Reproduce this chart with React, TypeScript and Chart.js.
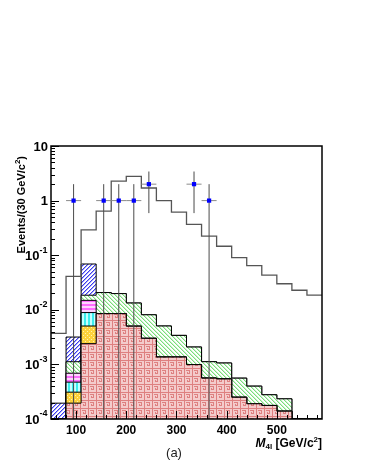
import React, { useEffect, useRef } from "react";
import { Chart, registerables } from "chart.js";

Chart.register(...registerables);

// ---------------- data ----------------
const BIN_LOW = [50, 80, 110, 140, 170, 200, 230, 260, 290, 320, 350, 380, 410, 440, 470, 500, 530, 560];
const BIN_END = 590;

// outer (unfilled) histogram
const SIGNAL_TOTAL = [0.0037, 0.041, 0.29, 0.64, 2.28, 2.78, 1.7, 1.0, 0.615, 0.366, 0.223, 0.146, 0.0906, 0.0645, 0.043, 0.03, 0.0228, 0.0185];

// stacked components, bottom to top
const BKG_PINK = [0, 1.95e-4, 2.4e-3, 8.5e-3, 8.5e-3, 5.0e-3, 3.0e-3, 1.36e-3, 1.36e-3, 9.9e-4, 5.6e-4, 5.4e-4, 2.5e-4, 1.9e-4, 1.77e-4, 1.39e-4, 0, 0];
const BKG_YELLOW = [0, 1.15e-4, 2.65e-3, 0, 0, 0, 0, 0, 0, 0, 0, 0, 0, 0, 0, 0, 0, 0];
const BKG_CYAN = [0, 1.63e-4, 3.85e-3, 0, 0, 0, 0, 0, 0, 0, 0, 0, 0, 0, 0, 0, 0, 0];
const BKG_MAGENTA = [0, 2.17e-4, 6.0e-3, 0, 0, 0, 0, 0, 0, 0, 0, 0, 0, 0, 0, 0, 0, 0];
const BKG_GREEN = [0, 4.3e-4, 3.6e-3, 1.22e-2, 1.13e-2, 8.3e-3, 5.1e-3, 3.69e-3, 2.04e-3, 1.09e-3, 5.6e-4, 5.2e-4, 3.1e-4, 2.1e-4, 1.01e-4, 9.5e-5, 0, 0];
const BKG_BLUE = [1.95e-4, 2.05e-3, 5.05e-2, 0, 0, 0, 0, 0, 0, 0, 0, 0, 0, 0, 0, 0, 0, 0];

// observed events
const DATA_X = [95, 155, 185, 215, 245, 335, 365];
const DATA_N = [1, 1, 1, 1, 2, 2, 1];
const DATA_ERR_LO = [1, 1, 1, 1, 1.41, 1.41, 1];
const DATA_ERR_HI = [1, 1, 1, 1, 1.41, 1.41, 1];
const DATA_HALF_WIDTH = 15;

const X_TICKS = [100, 200, 300, 400, 500];
const Y_TICKS = [10, 1, 0.1, 0.01, 0.001, 0.0001];
const Y_TICK_BASE = ["10", "1", "10", "10", "10", "10"];
const Y_TICK_EXP = ["", "", "-1", "-2", "-3", "-4"];

const X_MIN = 50;
const X_MAX = 590;
const Y_MIN = 1e-4;
const Y_MAX = 10;

const FONT = "'Liberation Sans', Arial, Helvetica, sans-serif";

// ---------------- helpers ----------------
function makePattern(ctx: CanvasRenderingContext2D, w: number, h: number, draw: (g: CanvasRenderingContext2D) => void) {
  const c = document.createElement("canvas");
  c.width = w;
  c.height = h;
  const g = c.getContext("2d")!;
  draw(g);
  return ctx.createPattern(c, "repeat")!;
}

function stepPoints(vals: number[]) {
  const pts = BIN_LOW.map((x, i) => ({ x, y: vals[i] > 0 ? vals[i] : Y_MIN }));
  const last = vals[vals.length - 1];
  pts.push({ x: BIN_END, y: last > 0 ? last : Y_MIN });
  return pts;
}

export default function App() {
  const ref = useRef<HTMLCanvasElement>(null);

  useEffect(() => {
    document.body.style.margin = "0";
    const canvas = ref.current!;
    const ctx = canvas.getContext("2d")!;

    const patPink = makePattern(ctx, 8, 8, (g) => {
      g.fillStyle = "#f4cbcb";
      g.fillRect(0, 0, 8, 8);
      g.fillStyle = "#de8080";
      g.fillRect(0, 0, 8, 1);
      g.fillRect(0, 0, 1, 8);
      g.fillRect(2, 2, 4, 1);
      g.fillRect(5, 2, 1, 4);
      g.fillRect(3, 5, 3, 1);
      g.fillRect(3, 4, 1, 2);
    });
    const patYellow = makePattern(ctx, 4, 4, (g) => {
      g.fillStyle = "#fdd23c";
      g.fillRect(0, 0, 4, 4);
      g.fillStyle = "#fff4b0";
      g.fillRect(1, 1, 1, 1);
      g.fillRect(3, 3, 1, 1);
    });
    const patCyan = makePattern(ctx, 4, 4, (g) => {
      g.fillStyle = "#c4ffff";
      g.fillRect(0, 0, 4, 4);
      g.fillStyle = "#3ceeee";
      g.fillRect(0, 0, 2, 4);
    });
    const patMagenta = makePattern(ctx, 4, 4, (g) => {
      g.fillStyle = "#ffd4ff";
      g.fillRect(0, 0, 4, 4);
      g.fillStyle = "#ff6cff";
      g.fillRect(0, 0, 4, 2);
    });
    const patGreen = makePattern(ctx, 4, 4, (g) => {
      g.fillStyle = "#ffffff";
      g.fillRect(0, 0, 4, 4);
      for (let i = 0; i < 4; i++) {
        g.fillStyle = "#7ade7a";
        g.fillRect(i, i, 1, 1);
        g.fillStyle = "#cdf3cd";
        g.fillRect((i + 1) % 4, i, 1, 1);
      }
    });
    const patBlue = makePattern(ctx, 4, 4, (g) => {
      g.fillStyle = "#ffffff";
      g.fillRect(0, 0, 4, 4);
      for (let i = 0; i < 4; i++) {
        g.fillStyle = "#3a3af0";
        g.fillRect(3 - i, i, 1, 1);
        g.fillStyle = "#aaaaf6";
        g.fillRect((4 - i) % 4, i, 1, 1);
      }
    });

    const layers = [BKG_PINK, BKG_YELLOW, BKG_CYAN, BKG_MAGENTA, BKG_GREEN, BKG_BLUE];
    const patterns = [patPink, patYellow, patCyan, patMagenta, patGreen, patBlue];
    const cum: number[][] = [];
    layers.forEach((l, k) => {
      cum.push(l.map((v, i) => v + (k > 0 ? cum[k - 1][i] : 0)));
    });

    const layerSets = cum.map((c, k) => ({
      label: "bkg" + k,
      data: stepPoints(c),
      stepped: true as const,
      fill: "start" as const,
      backgroundColor: patterns[k],
      borderColor: "#000000",
      borderWidth: 1,
      pointRadius: 0,
      order: 3 + k,
    }));

    const yErr: any[] = [];
    const xErr: any[] = [];
    DATA_X.forEach((x, i) => {
      const lo = DATA_N[i] - DATA_ERR_LO[i];
      yErr.push({ x, y: lo > 0 ? lo : Y_MIN }, { x, y: DATA_N[i] + DATA_ERR_HI[i] }, { x, y: null });
      xErr.push({ x: x - DATA_HALF_WIDTH, y: DATA_N[i] }, { x: x + DATA_HALF_WIDTH, y: DATA_N[i] }, { x, y: null });
    });

    const decor = {
      id: "decor",
      afterDatasetsDraw(chart: any) {
        const c = chart.ctx as CanvasRenderingContext2D;
        const a = chart.chartArea;
        const xs = chart.scales.x;
        const ys = chart.scales.y;
        c.save();
        c.strokeStyle = "#000";
        c.lineWidth = 1;
        c.beginPath();
        // left axis ticks
        for (let d = -4; d <= 1; d++) {
          for (let m = 1; m <= 9; m++) {
            const v = m * Math.pow(10, d);
            if (v < Y_MIN || v > Y_MAX) continue;
            const y = Math.round(ys.getPixelForValue(v)) + 0.5;
            const len = m === 1 ? 8 : 4;
            c.moveTo(a.left, y);
            c.lineTo(a.left + len, y);
          }
        }
        // bottom axis ticks
        for (let v = 60; v < X_MAX; v += 20) {
          const x = Math.round(xs.getPixelForValue(v)) + 0.5;
          const len = v % 100 === 0 ? 8 : 4;
          c.moveTo(x, a.bottom);
          c.lineTo(x, a.bottom - len);
        }
        c.stroke();
        c.lineWidth = 1.5;
        c.strokeRect(a.left, a.top, a.right - a.left, a.bottom - a.top);
        c.restore();
      },
      afterDraw(chart: any) {
        const c = chart.ctx as CanvasRenderingContext2D;
        const a = chart.chartArea;
        const ys = chart.scales.y;
        c.save();
        c.fillStyle = "#000";
        // y tick labels
        Y_TICKS.forEach((v, i) => {
          const y = ys.getPixelForValue(v);
          const base = Y_TICK_BASE[i];
          const exp = Y_TICK_EXP[i];
          c.font = `bold 9px ${FONT}`;
          const we = exp ? c.measureText(exp).width + 0.5 : 0;
          c.font = `bold 13px ${FONT}`;
          const wb = c.measureText(base).width;
          const right = a.left - 3;
          c.textBaseline = "middle";
          c.textAlign = "left";
          c.fillText(base, right - we - wb, y + 1);
          if (exp) {
            c.font = `bold 9px ${FONT}`;
            c.fillText(exp, right - we, y - 5);
          }
        });
        // y title
        c.save();
        c.translate(25, 156);
        c.rotate(-Math.PI / 2);
        c.textBaseline = "alphabetic";
        c.textAlign = "left";
        const p1 = "Events/(30 GeV/c";
        const p2 = "2";
        const p3 = ")";
        c.font = `bold 11px ${FONT}`;
        const w1 = c.measureText(p1).width;
        const w3 = c.measureText(p3).width;
        c.font = `bold 8px ${FONT}`;
        const w2 = c.measureText(p2).width;
        let x0 = -(w1 + w2 + w3);
        c.font = `bold 11px ${FONT}`;
        c.fillText(p1, x0, 0);
        x0 += w1;
        c.font = `bold 8px ${FONT}`;
        c.fillText(p2, x0, -5);
        x0 += w2;
        c.font = `bold 11px ${FONT}`;
        c.fillText(p3, x0, 0);
        c.restore();
        // x title
        const parts = [
          { t: "M", f: `italic bold 12px ${FONT}`, dy: 0 },
          { t: "4l", f: `bold 8px ${FONT}`, dy: 2 },
          { t: " [GeV/c", f: `bold 12px ${FONT}`, dy: 0 },
          { t: "2", f: `bold 8px ${FONT}`, dy: -5 },
          { t: "]", f: `bold 12px ${FONT}`, dy: 0 },
        ];
        let total = 0;
        const ws = parts.map((p) => {
          c.font = p.f;
          const w = c.measureText(p.t).width;
          total += w;
          return w;
        });
        let xx = a.right - total;
        c.textBaseline = "alphabetic";
        parts.forEach((p, i) => {
          c.font = p.f;
          c.fillText(p.t, xx, 447 + p.dy);
          xx += ws[i];
        });
        // panel label
        c.font = `13px ${FONT}`;
        c.fillStyle = "#222";
        c.textAlign = "center";
        c.fillText("(a)", 174, 457);
        c.restore();
      },
    };

    const chart = new Chart(ctx, {
      type: "line",
      data: {
        datasets: [
          {
            label: "data",
            data: DATA_X.map((x, i) => ({ x, y: DATA_N[i] })),
            showLine: false,
            pointStyle: "rect",
            pointRadius: 3,
            pointBackgroundColor: "#0000ff",
            pointBorderColor: "#0000ff",
            pointBorderWidth: 0,
            order: 0,
          },
          {
            label: "yerr",
            data: yErr,
            borderColor: "#4a4a4a",
            borderWidth: 1,
            pointRadius: 0,
            spanGaps: false,
            order: 1,
          },
          {
            label: "xerr",
            data: xErr,
            borderColor: "#8a8a8a",
            borderWidth: 1,
            pointRadius: 0,
            spanGaps: false,
            order: 1,
          },
          {
            label: "total",
            data: stepPoints(SIGNAL_TOTAL),
            stepped: true,
            fill: false,
            borderColor: "#555555",
            borderWidth: 1.3,
            pointRadius: 0,
            order: 2,
          },
          ...layerSets,
        ] as any,
      },
      options: {
        responsive: false,
        animation: false,
        devicePixelRatio: 1,
        layout: { padding: { top: 146, right: 44, left: 0, bottom: 0 } },
        plugins: { legend: { display: false }, tooltip: { enabled: false } },
        scales: {
          x: {
            type: "linear",
            min: X_MIN,
            max: X_MAX,
            afterFit: (s: any) => {
              s.height = 54;
            },
            afterBuildTicks: (s: any) => {
              s.ticks = X_TICKS.map((v) => ({ value: v }));
            },
            grid: { display: false, drawTicks: false },
            border: { display: false },
            ticks: {
              padding: 4,
              color: "#000",
              font: { family: FONT, size: 12, weight: "bold" },
              maxRotation: 0,
              autoSkip: false,
              callback: (v: any) => String(v),
            },
          },
          y: {
            type: "logarithmic",
            min: Y_MIN,
            max: Y_MAX,
            afterFit: (s: any) => {
              s.width = 51;
            },
            grid: { display: false, drawTicks: false },
            border: { display: false },
            ticks: { display: false },
          },
        },
      },
      plugins: [decor],
    });
    return () => chart.destroy();
  }, []);

  return (
    <div style={{ width: 366, height: 473, background: "#fff" }}>
      <canvas ref={ref} width={366} height={473} style={{ display: "block" }} />
    </div>
  );
}
